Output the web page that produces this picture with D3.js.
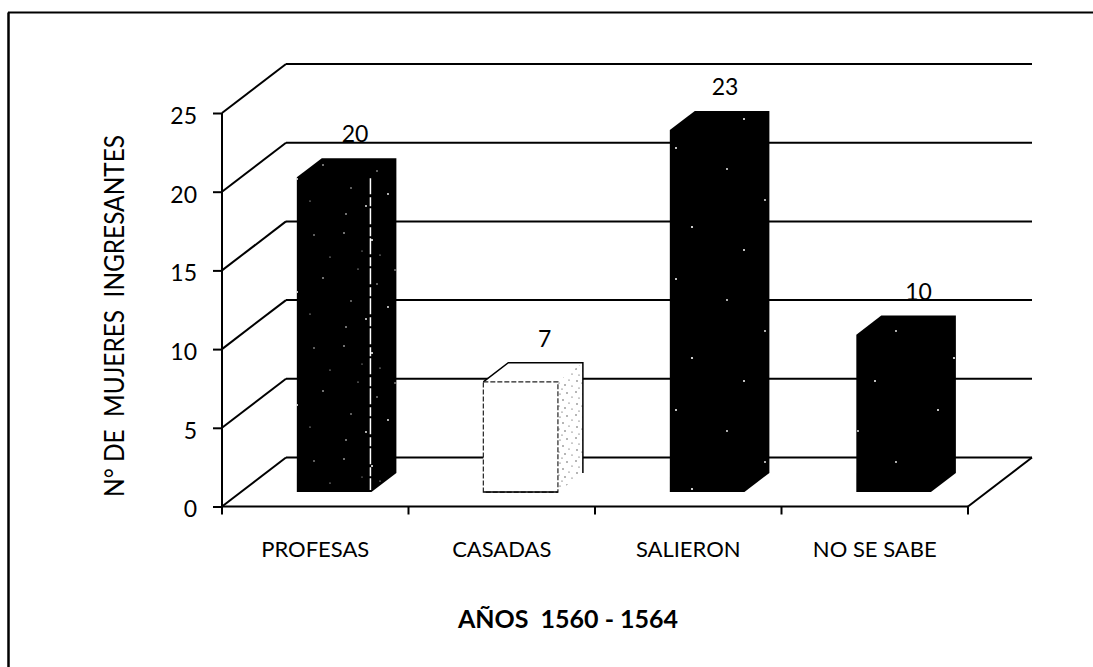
<!DOCTYPE html>
<html>
<head>
<meta charset="utf-8">
<script src="https://cdnjs.cloudflare.com/ajax/libs/d3/7.8.5/d3.min.js"></script>
<style>
  html, body { margin: 0; background: #fff; }
  svg { display: block; }
  text { font-family: Lato, sans-serif; fill: #000; }
</style>
</head>
<body>
<svg id="chart" width="1093" height="667"></svg>
<script>
// values
const categories = ["PROFESAS", "CASADAS", "SALIERON", "NO SE SABE"];
const counts = [20, 7, 23, 10];
const yTicks = [0, 5, 10, 15, 20, 25];
const yTitle = "N° DE  MUJERES  INGRESANTES";
const xTitle = "AÑOS  1560 - 1564";

const svg = d3.select("#chart");

// plot box, front plane
const plotLeft = 222, plotRight = 968, plotBottom = 506.5, plotTop = 113;
// how far the back wall is shifted by the fake 3d
const wallDx = 64, wallDy = -49;
// bars stand between these fractions of the floor depth
const barFront = 0.295, barBack = 0.685;
// value labels don't sit quite the same over each bar
const labelNudge = [-4, -1, -7, 0];

const x = d3.scaleBand().domain(categories).range([plotLeft, plotRight]);
const bar = d3.scaleBand().domain(categories).range([plotLeft, plotRight]).paddingInner(0.6).paddingOuter(0.3);
const y = d3.scaleLinear().domain([0, 25]).range([plotBottom, plotTop]);

const defs = svg.append("defs");

// scan noise on the black bars
function speckle(id, size, dots, color) {
  const p = defs.append("pattern").attr("id", id)
    .attr("patternUnits", "userSpaceOnUse").attr("width", size).attr("height", size);
  p.selectAll("circle").data(dots).join("circle")
    .attr("cx", d => d[0]).attr("cy", d => d[1]).attr("r", d => d[2]).attr("fill", color);
}
speckle("noiseDense", 113, [[5,7,.8],[19,43,.6],[33,14,1],[12,75,.7],[27,93,.9],[41,29,.6],[7,101,.8],[56,44,.7],
  [62,18,.6],[71,66,1],[88,9,.7],[97,52,.8],[84,88,.6],[49,81,.9],[104,31,.6],[38,58,.7],[23,25,.5]], "#fff");
speckle("noiseSparse", 131, [[21,17,1],[72,38,.9],[37,96,1.1],[110,69,.9],[89,119,1]], "#fff");
speckle("stipple", 23, [[1,1,.7],[8,3,.6],[15,2,.7],[20,6,.6],[4,7,.6],[11,9,.7],[17,12,.6],[2,13,.7],[7,15,.6],
  [13,17,.7],[20,18,.6],[4,20,.6],[10,21,.6]], "#333");

const barNoise = ["noiseDense", null, "noiseSparse", "noiseSparse"];

const rule = (x1, y1, x2, y2, w) => svg.append("line")
  .attr("x1", x1).attr("y1", y1).attr("x2", x2).attr("y2", y2)
  .attr("stroke", "#000").attr("stroke-width", w || 2);

// outer frame, only top and left survive in the scan
rule(8.5, 12.5, 8.5, 667, 2.5);
rule(8, 12.5, 1093, 12.5, 2);

// back wall gridlines and their slanted part on the side wall
yTicks.forEach(t => {
  rule(plotLeft, y(t), plotLeft + wallDx, y(t) + wallDy);
  rule(plotLeft + wallDx, y(t) + wallDy, plotRight + wallDx, y(t) + wallDy);
});

// floor
rule(plotLeft, plotBottom, plotRight, plotBottom);
rule(plotRight, plotBottom, plotRight + wallDx, plotBottom + wallDy);

// y axis
rule(plotLeft, plotTop, plotLeft, plotBottom);
const yAxis = svg.append("g").attr("transform", `translate(${plotLeft},0)`)
  .call(d3.axisLeft(y).tickValues(yTicks).tickSize(9).tickPadding(16));
yAxis.select(".domain").remove();
yAxis.selectAll("line").attr("stroke", "#000").attr("stroke-width", 2);
yAxis.selectAll("text").style("font-size", "23px").style("font-family", "Lato, sans-serif").attr("dy", "0.45em");

// x axis ticks, labels are centred on each band
const xAxis = svg.append("g").attr("transform", `translate(0,${plotBottom})`)
  .call(d3.axisBottom(x).tickSize(0).tickPadding(35));
xAxis.select(".domain").remove();
xAxis.selectAll("text").style("font-size", "22px").style("font-family", "Lato, sans-serif");
categories.forEach(c => rule(x(c), plotBottom, x(c), plotBottom + 8));
rule(plotRight, plotBottom, plotRight, plotBottom + 8);

// bars
const frontDx = barFront * wallDx, frontDy = barFront * wallDy;
const depthDx = (barBack - barFront) * wallDx, depthDy = (barBack - barFront) * wallDy;
const closed = pts => d3.line()(pts) + "Z";

categories.forEach((c, i) => {
  const v = counts[i];
  const x0 = bar(c) + frontDx, x1 = x0 + bar.bandwidth();
  const yb = y(0) + frontDy, yt = y(v) + frontDy;
  const g = svg.append("g");
  const noise = barNoise[i];
  const front = [[x0, yt], [x1, yt], [x1, yb], [x0, yb]];
  const hull = [[x0, yt], [x0 + depthDx, yt + depthDy], [x1 + depthDx, yt + depthDy],
    [x1 + depthDx, yb + depthDy], [x1, yb], [x0, yb]];
  const side = [[x1, yt], [x1 + depthDx, yt + depthDy], [x1 + depthDx, yb + depthDy], [x1, yb]];

  if (noise) {
    // solid hull first so the faces leave no seam, then the noise on top
    g.append("path").attr("d", closed(hull)).attr("fill", "#000");
    g.append("path").attr("d", closed(hull)).attr("fill", `url(#${noise})`);
    // first bar keeps a broken white front edge
    if (i === 0) {
      g.append("line").attr("x1", x1 - 1).attr("x2", x1 - 1).attr("y1", yt + 1).attr("y2", yb - 2)
        .attr("stroke", "#fff").attr("stroke-width", 1.5).attr("stroke-dasharray", "16 3 9 2");
    }
  } else {
    g.append("path").attr("d", closed(hull)).attr("fill", "#fff");
    g.append("path").attr("d", closed(side)).attr("fill", "url(#stipple)");
    g.append("path").attr("d", d3.line()([[x0, yt], [x0 + depthDx, yt + depthDy], [x1 + depthDx, yt + depthDy], [x1 + depthDx, yb + depthDy]]))
      .attr("fill", "none").attr("stroke", "#000").attr("stroke-width", 1.5);
    g.append("path").attr("d", closed(front))
      .attr("fill", "none").attr("stroke", "#222").attr("stroke-width", 1.2).attr("stroke-dasharray", "5 2");
    g.append("line").attr("x1", x0).attr("x2", x1).attr("y1", yb).attr("y2", yb)
      .attr("stroke", "#000").attr("stroke-width", 1.5);
  }
  // value label above the back edge
  svg.append("text").attr("x", x0 + bar.bandwidth() / 2 + depthDx + labelNudge[i]).attr("y", yt + depthDy - 16)
    .attr("text-anchor", "middle").style("font-size", "23px").text(v);
});

// titles
svg.append("text").attr("transform", "translate(124,316) rotate(-90)")
  .attr("text-anchor", "middle").style("font-size", "26px").style("white-space", "pre")
  .attr("textLength", 362).attr("lengthAdjust", "spacingAndGlyphs").text(yTitle);
svg.append("text").attr("x", 568).attr("y", 628)
  .attr("text-anchor", "middle").style("font-size", "25px").style("font-weight", "700")
  .style("white-space", "pre").text(xTitle);
</script>
</body>
</html>
